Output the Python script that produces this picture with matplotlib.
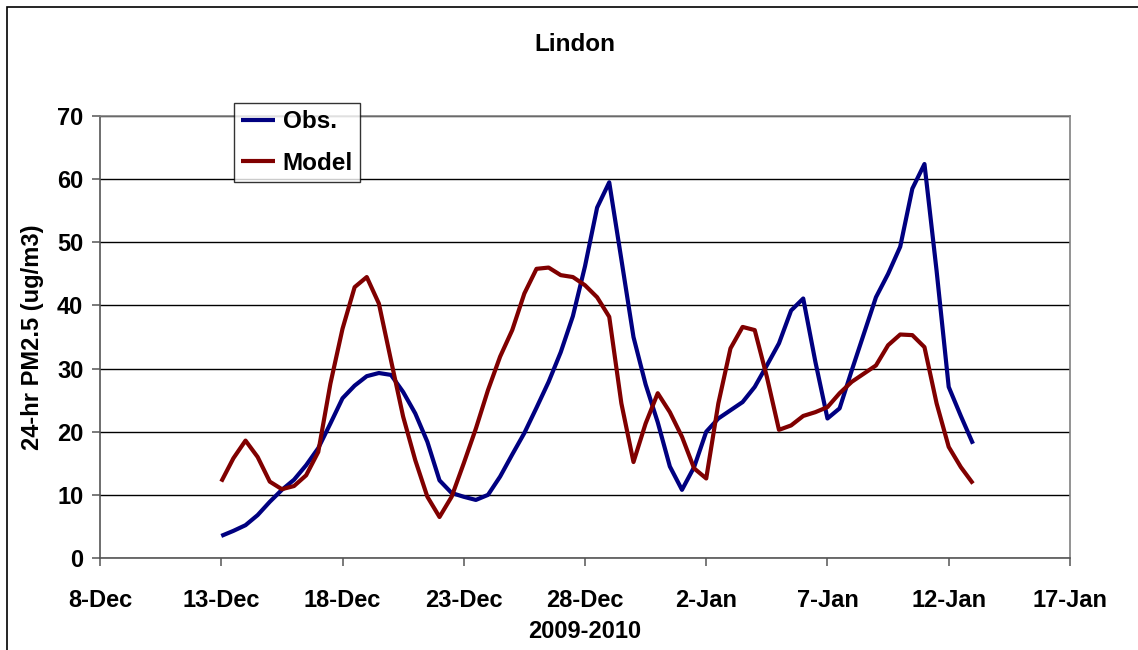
import matplotlib
matplotlib.use("Agg")
import matplotlib.pyplot as plt
from matplotlib.patches import Rectangle
import pandas as pd

plt.rcParams["font.family"] = ["Liberation Sans", "DejaVu Sans"]
plt.rcParams["font.weight"] = "bold"

# 12-hourly readings, 13-Dec-2009 00:00 .. 13-Jan-2010 00:00
times = pd.date_range("2009-12-13", "2010-01-13", freq="12h")

obs = [3.5, 4.3, 5.2, 6.8, 8.9, 10.8, 12.4, 14.7, 17.4, 21.3,
       25.3, 27.3, 28.8, 29.3, 29.0, 26.3, 22.9, 18.4, 12.3, 10.3,
       9.7, 9.2, 10.0, 12.9, 16.4, 19.8, 23.8, 27.9, 32.6, 38.3,
       46.2, 55.5, 59.5, 47.3, 35.0, 27.5, 21.5, 14.5, 10.8, 14.4,
       20.0, 22.1, 23.4, 24.7, 27.1, 30.5, 34.0, 39.2, 41.1, 31.1,
       22.1, 23.7, 29.7, 35.5, 41.3, 45.0, 49.3, 58.5, 62.4, 45.5,
       27.1, 22.5, 18.1]

model = [12.1, 15.8, 18.6, 16.0, 12.1, 10.9, 11.4, 13.1, 16.8, 27.6,
         36.3, 42.9, 44.5, 40.3, 31.3, 22.4, 15.5, 9.7, 6.5, 9.7,
         15.0, 20.5, 26.6, 31.9, 36.1, 41.9, 45.8, 46.0, 44.8, 44.5,
         43.2, 41.3, 38.2, 24.5, 15.2, 21.3, 26.1, 23.1, 19.2, 14.2,
         12.6, 24.5, 33.2, 36.6, 36.1, 28.7, 20.3, 21.0, 22.5, 23.1,
         23.9, 26.1, 27.9, 29.2, 30.5, 33.7, 35.4, 35.3, 33.4, 24.5,
         17.6, 14.4, 11.8]

fig = plt.figure(figsize=(11.38, 6.5), dpi=100)
fig.patch.set_facecolor("white")
# chart-area border
fig.add_artist(Rectangle((0.006, -0.02), 1.0, 1.009, transform=fig.transFigure,
                         fill=False, edgecolor="black", linewidth=1.2))

ax = fig.add_axes([0.0879, 0.1415, 0.8523, 0.68])

ax.plot(times, obs, color="#000080", linewidth=3.0, label="Obs.",
        solid_joinstyle="round", solid_capstyle="butt")
ax.plot(times, model, color="#800000", linewidth=3.0, label="Model",
        solid_joinstyle="round", solid_capstyle="butt")

ax.set_xlim(pd.Timestamp("2009-12-08"), pd.Timestamp("2010-01-17"))
ax.set_ylim(0, 70)
ax.set_yticks(range(0, 71, 10))
ticks = pd.date_range("2009-12-08", "2010-01-17", freq="5D")
ax.set_xticks(ticks)
ax.set_xticklabels([f"{t.day}-{t.strftime('%b')}" for t in ticks])

ax.yaxis.grid(True, color="black", linewidth=1.0)
ax.set_axisbelow(True)
for side in ["top", "right"]:
    ax.spines[side].set_color("#808080")
    ax.spines[side].set_linewidth(1.2)
for side in ["left", "bottom"]:
    ax.spines[side].set_color("#555555")
    ax.spines[side].set_linewidth(1.2)

ax.tick_params(axis="both", labelsize=17, direction="out", length=6,
               width=1.1, color="#555555")
ax.tick_params(axis="x", pad=16)
ax.tick_params(axis="y", pad=6)

ax.set_ylabel("24-hr PM2.5 (ug/m3)", fontsize=17, fontweight="bold", labelpad=9)
ax.set_xlabel("2009-2010", fontsize=17, fontweight="bold", labelpad=6)
fig.text(0.5055, 0.931, "Lindon", ha="center", va="center",
         fontsize=17.5, fontweight="bold")

leg = ax.legend(loc="upper left", bbox_to_anchor=(0.2056, 0.8415),
                bbox_transform=fig.transFigure, borderaxespad=0,
                fontsize=17.5, frameon=True, fancybox=False,
                handlelength=1.4, handletextpad=0.3, labelspacing=0.75,
                borderpad=0.3)
leg.get_frame().set_edgecolor("black")
leg.get_frame().set_linewidth(1.0)
for t in leg.get_texts():
    t.set_fontweight("bold")

fig.savefig("out.png", dpi=100)
